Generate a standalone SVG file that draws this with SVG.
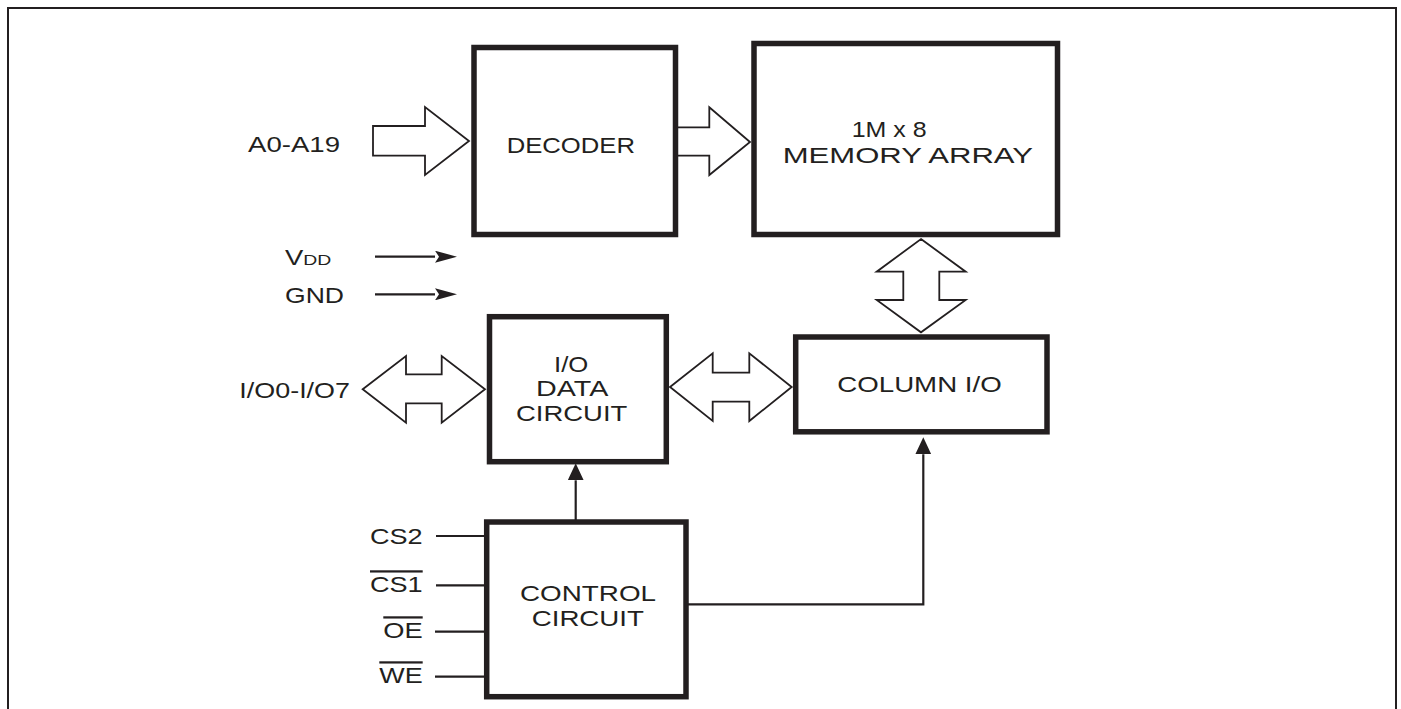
<svg xmlns="http://www.w3.org/2000/svg" width="1401" height="709" viewBox="0 0 1401 709">
<style>
.box{fill:#fff;stroke:#231f20;stroke-width:5.5}
.bus{fill:#fff;stroke:#231f20;stroke-width:1.8;stroke-linejoin:miter}
.ln{fill:none;stroke:#231f20;stroke-width:2.2}
text{font-family:"Liberation Sans",Arial,Helvetica,sans-serif;font-size:22.5px;fill:#231f20}
.ov{text-decoration:overline}
</style>
<defs>
<marker id="ah" viewBox="0 0 17 16" refX="0" refY="8" markerWidth="17" markerHeight="16" markerUnits="userSpaceOnUse" orient="auto">
<path d="M0,0 L17,8 L0,16 z" fill="#231f20"/>
</marker>
<marker id="ahs" viewBox="0 0 22 12" refX="0" refY="6" markerWidth="22" markerHeight="12" markerUnits="userSpaceOnUse" orient="auto">
<path d="M0,0 L22,6 L0,12 L4,6 z" fill="#231f20"/>
</marker>
</defs>
<rect width="1401" height="709" fill="#fff"/>
<g id="frame">
<path d="M8,709 V8 H1396 V709" fill="none" stroke="#231f20" stroke-width="2"/>
</g>

<g id="connectors">
<polygon id="bus-addr" class="bus" points="373,126 425,126 425,107 469,141 425,175 425,155.7 373,155.7"/>
<polygon id="bus-dec-mem" class="bus" points="675.5,127.3 709.3,127.3 709.3,107.3 750,142 709.3,175 709.3,155.7 675.5,155.7"/>
<polygon id="bus-mem-col" class="bus" points="921,239 965.7,271.7 939.3,271.7 939.3,300 965.7,300 921,332.3 876.7,300 903.3,300 903.3,271.7 876.7,271.7"/>
<polygon id="bus-io" class="bus" points="362.7,389.3 406,356 406,374.3 441.7,374.3 441.7,356 485,389.3 441.7,422.7 441.7,403.3 406,403.3 406,422.7"/>
<polygon id="bus-io-col" class="bus" points="670,387 712.7,353.3 712.7,372.7 749.3,372.7 749.3,353.3 791.7,387 749.3,421 749.3,401.7 712.7,401.7 712.7,421"/>
<line class="ln" x1="375" y1="256.7" x2="435" y2="256.7" marker-end="url(#ahs)"/>
<line class="ln" x1="375" y1="294.3" x2="435" y2="294.3" marker-end="url(#ahs)"/>
<line class="ln" x1="575.7" y1="522" x2="575.7" y2="480.3" marker-end="url(#ah)"/>
<path class="ln" d="M686,604.3 H923.3 V454.3" marker-end="url(#ah)"/>
<line class="ln" x1="436" y1="536" x2="487" y2="536"/>
<line class="ln" x1="436" y1="585.3" x2="487" y2="585.3"/>
<line class="ln" x1="435" y1="631.7" x2="487" y2="631.7"/>
<line class="ln" x1="435" y1="676.7" x2="487" y2="676.7"/>
</g>

<g id="decoder">
<rect class="box" x="474" y="47.5" width="201.5" height="187"/>
<text x="506.7" y="152.7" textLength="128.3" lengthAdjust="spacingAndGlyphs">DECODER</text>
</g>
<g id="memory-array">
<rect class="box" x="754" y="43.5" width="303.5" height="191"/>
<text x="851.7" y="136.7" textLength="75" lengthAdjust="spacingAndGlyphs">1M x 8</text>
<text x="782.7" y="162.7" textLength="250.3" lengthAdjust="spacingAndGlyphs">MEMORY ARRAY</text>
</g>
<g id="io-data-circuit">
<rect class="box" x="489.5" y="316.7" width="176.8" height="145"/>
<text x="554" y="371.7" textLength="34.3" lengthAdjust="spacingAndGlyphs">I/O</text>
<text x="536" y="396" textLength="72.3" lengthAdjust="spacingAndGlyphs">DATA</text>
<text x="516" y="421" textLength="111.3" lengthAdjust="spacingAndGlyphs">CIRCUIT</text>
</g>
<g id="column-io">
<rect class="box" x="795.7" y="337" width="251.3" height="94.8"/>
<text x="837.3" y="391.7" textLength="164.4" lengthAdjust="spacingAndGlyphs">COLUMN I/O</text>
</g>
<g id="control-circuit">
<rect class="box" x="486.7" y="522" width="199.3" height="174.7"/>
<text x="520" y="600.7" textLength="136" lengthAdjust="spacingAndGlyphs">CONTROL</text>
<text x="531.7" y="625.7" textLength="112.3" lengthAdjust="spacingAndGlyphs">CIRCUIT</text>
</g>

<g id="labels">
<text x="248" y="151.7" textLength="92" lengthAdjust="spacingAndGlyphs">A0-A19</text>
<text x="285" y="264.5"><tspan textLength="18.3" lengthAdjust="spacingAndGlyphs">V</tspan><tspan font-size="15.5" textLength="28" lengthAdjust="spacingAndGlyphs">DD</tspan></text>
<text x="285" y="302.7" textLength="59" lengthAdjust="spacingAndGlyphs">GND</text>
<text x="239.3" y="398.3" textLength="110.7" lengthAdjust="spacingAndGlyphs">I/O0-I/O7</text>
<text x="370" y="544" textLength="52.7" lengthAdjust="spacingAndGlyphs">CS2</text>
<text class="ov" x="370" y="592.3" textLength="52.7" lengthAdjust="spacingAndGlyphs">CS1</text>
<text class="ov" x="383.3" y="638.3" textLength="39.4" lengthAdjust="spacingAndGlyphs">OE</text>
<text class="ov" x="379.3" y="683.3" textLength="43.4" lengthAdjust="spacingAndGlyphs">WE</text>
</g>
</svg>
